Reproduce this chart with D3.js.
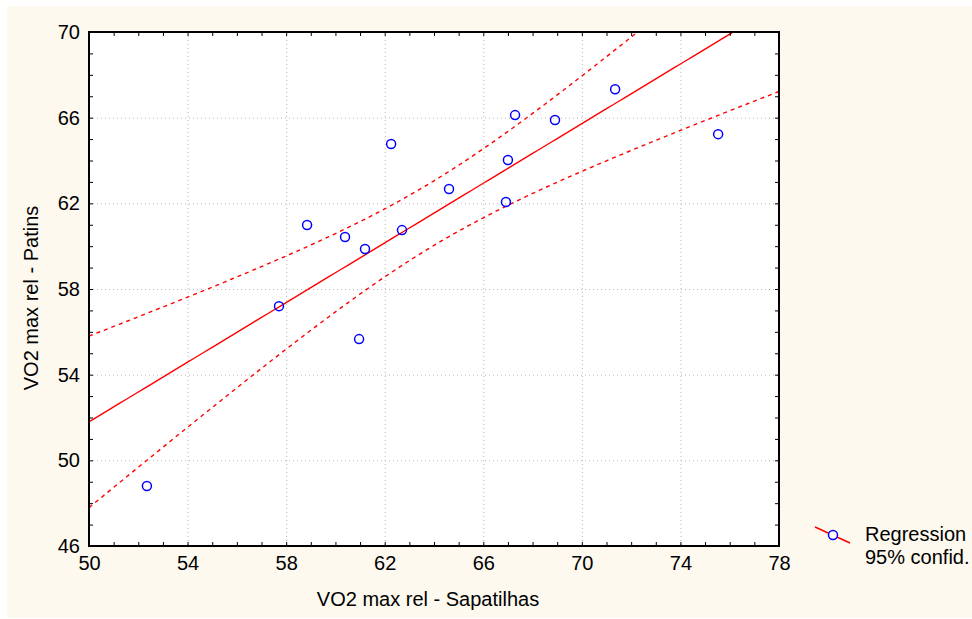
<!DOCTYPE html>
<html>
<head>
<meta charset="utf-8">
<script src="https://cdn.jsdelivr.net/npm/d3@7"></script>
<style>
  body { margin: 0; background: #ffffff; }
  svg { display: block; font-family: "Liberation Sans", Arial, sans-serif; }
</style>
</head>
<body>
<svg class="chart" width="972" height="619"></svg>
<script>
// VO2 max rel, same subjects measured two ways
var sapatilhas = [52.35, 57.71, 58.85, 60.39, 61.20, 60.96, 62.26, 62.70, 64.61, 66.92, 67.00, 67.29, 68.91, 71.35, 75.53];
var patins     = [48.80, 57.20, 60.99, 60.43, 59.87, 55.66, 64.77, 60.75, 62.67, 62.06, 64.02, 66.12, 65.89, 67.33, 65.23];

var xTicks = [50, 54, 58, 62, 66, 70, 74, 78];
var yTicks = [46, 50, 54, 58, 62, 66, 70];
var xTitle = 'VO2 max rel - Sapatilhas';
var yTitle = 'VO2 max rel - Patins';
var legendLabels = ['Regression', '95% confid.'];

// note: "top" is taken by window.top, so use plot* names
var plotLeft = 89, plotRight = 779, plotTop = 32, plotBottom = 546;
var fontSize = 20;

var svg = d3.select('.chart');

// cream page background
svg.append('rect')
  .attr('x', 7).attr('y', 6)
  .attr('width', 965).attr('height', 612)
  .attr('fill', '#fdf9ef');

var xScale = d3.scaleLinear().domain([50, 78]).range([plotLeft, plotRight]);
var yScale = d3.scaleLinear().domain([46, 70]).range([plotBottom, plotTop]);

svg.append('rect')
  .attr('x', plotLeft).attr('y', plotTop)
  .attr('width', plotRight - plotLeft).attr('height', plotBottom - plotTop)
  .attr('fill', '#ffffff');

svg.append('clipPath').attr('id', 'plot-clip')
  .append('rect')
  .attr('x', plotLeft).attr('y', plotTop)
  .attr('width', plotRight - plotLeft).attr('height', plotBottom - plotTop);

// dotted grid at the major ticks
var grid = svg.append('g').attr('stroke', '#b8b8b8').attr('stroke-width', 1).attr('stroke-dasharray', '1,3');
grid.selectAll('line.gx')
  .data(xTicks.slice(1, -1))
  .join('line')
  .attr('class', 'gx')
  .attr('x1', function (d) { return xScale(d) + 0.5; })
  .attr('x2', function (d) { return xScale(d) + 0.5; })
  .attr('y1', plotTop).attr('y2', plotBottom);
grid.selectAll('line.gy')
  .data(yTicks.slice(1, -1))
  .join('line')
  .attr('class', 'gy')
  .attr('y1', function (d) { return yScale(d) + 0.5; })
  .attr('y2', function (d) { return yScale(d) + 0.5; })
  .attr('x1', plotLeft).attr('x2', plotRight);

// least squares fit and 95% confidence band for the mean
var n = sapatilhas.length;
var mx = d3.mean(sapatilhas), my = d3.mean(patins);
var sxx = 0, sxy = 0;
for (let i = 0; i < n; i++) {
  sxx += (sapatilhas[i] - mx) * (sapatilhas[i] - mx);
  sxy += (sapatilhas[i] - mx) * (patins[i] - my);
}
var slope = sxy / sxx;
var intercept = my - slope * mx;
var sse = 0;
for (let i = 0; i < n; i++) {
  var r = patins[i] - (intercept + slope * sapatilhas[i]);
  sse += r * r;
}
var s = Math.sqrt(sse / (n - 2));
var tCrit = 2.160; // t(0.975, 13)

var xs = d3.range(50, 78.01, 0.25);
var band = xs.map(function (x) {
  var fit = intercept + slope * x;
  var half = tCrit * s * Math.sqrt(1 / n + (x - mx) * (x - mx) / sxx);
  return { x: x, fit: fit, lo: fit - half, hi: fit + half };
});

var plot = svg.append('g').attr('clip-path', 'url(#plot-clip)');

var lineFit = d3.line().x(function (d) { return xScale(d.x); }).y(function (d) { return yScale(d.fit); });
var lineLo = d3.line().x(function (d) { return xScale(d.x); }).y(function (d) { return yScale(d.lo); });
var lineHi = d3.line().x(function (d) { return xScale(d.x); }).y(function (d) { return yScale(d.hi); });

plot.append('path').attr('d', lineFit(band))
  .attr('fill', 'none').attr('stroke', '#ff0000').attr('stroke-width', 1.4);
plot.append('path').attr('d', lineLo(band))
  .attr('fill', 'none').attr('stroke', '#ff0000').attr('stroke-width', 1.4).attr('stroke-dasharray', '4,4');
plot.append('path').attr('d', lineHi(band))
  .attr('fill', 'none').attr('stroke', '#ff0000').attr('stroke-width', 1.4).attr('stroke-dasharray', '4,4');

plot.selectAll('circle')
  .data(sapatilhas)
  .join('circle')
  .attr('cx', function (d) { return xScale(d); })
  .attr('cy', function (d, i) { return yScale(patins[i]); })
  .attr('r', 4.5)
  .attr('fill', 'none')
  .attr('stroke', '#0000ff')
  .attr('stroke-width', 1.5);

// axes: ticks every unit, pointing inward on all four sides
var minorX = d3.range(50, 79, 1);
var minorY = d3.range(46, 71, 1);

svg.append('g').attr('transform', 'translate(0,' + plotBottom + ')')
  .call(d3.axisTop(xScale).tickValues(minorX).tickSize(4).tickFormat(''))
  .call(function (g) { g.select('.domain').remove(); });
svg.append('g').attr('transform', 'translate(0,' + plotTop + ')')
  .call(d3.axisBottom(xScale).tickValues(minorX).tickSize(4).tickFormat(''))
  .call(function (g) { g.select('.domain').remove(); });
svg.append('g').attr('transform', 'translate(' + plotLeft + ',0)')
  .call(d3.axisRight(yScale).tickValues(minorY).tickSize(4).tickFormat(''))
  .call(function (g) { g.select('.domain').remove(); });
svg.append('g').attr('transform', 'translate(' + plotRight + ',0)')
  .call(d3.axisLeft(yScale).tickValues(minorY).tickSize(4).tickFormat(''))
  .call(function (g) { g.select('.domain').remove(); });

// tick labels
var xAxis = svg.append('g').attr('transform', 'translate(0,' + plotBottom + ')')
  .call(d3.axisBottom(xScale).tickValues(xTicks).tickSize(0).tickPadding(10).tickFormat(d3.format('d')));
xAxis.select('.domain').remove();
xAxis.selectAll('text').attr('font-size', fontSize).attr('font-family', null).attr('fill', '#000');

var yAxis = svg.append('g').attr('transform', 'translate(' + plotLeft + ',0)')
  .call(d3.axisLeft(yScale).tickValues(yTicks).tickSize(0).tickPadding(9).tickFormat(d3.format('d')));
yAxis.select('.domain').remove();
yAxis.selectAll('text').attr('font-size', fontSize).attr('font-family', null).attr('fill', '#000');

// frame
svg.append('rect')
  .attr('x', plotLeft).attr('y', plotTop)
  .attr('width', plotRight - plotLeft).attr('height', plotBottom - plotTop)
  .attr('fill', 'none').attr('stroke', '#000').attr('stroke-width', 2);

// axis titles
svg.append('text')
  .attr('x', (plotLeft + plotRight) / 2 - 6).attr('y', 606)
  .attr('text-anchor', 'middle').attr('font-size', fontSize)
  .text(xTitle);
svg.append('text')
  .attr('transform', 'translate(38,' + 298 + ') rotate(-90)')
  .attr('text-anchor', 'middle').attr('font-size', fontSize)
  .text(yTitle);

// legend
var legend = svg.append('g');
legend.append('line')
  .attr('x1', 815).attr('y1', 527).attr('x2', 850).attr('y2', 543)
  .attr('stroke', '#ff0000').attr('stroke-width', 1.4);
legend.append('circle')
  .attr('cx', 833).attr('cy', 535).attr('r', 4.5)
  .attr('fill', '#ffffff').attr('stroke', '#0000ff').attr('stroke-width', 1.5);
legend.selectAll('text')
  .data(legendLabels)
  .join('text')
  .attr('x', 865)
  .attr('y', function (d, i) { return 541 + i * 22.5; })
  .attr('font-size', fontSize)
  .text(function (d) { return d; });
</script>
</body>
</html>
